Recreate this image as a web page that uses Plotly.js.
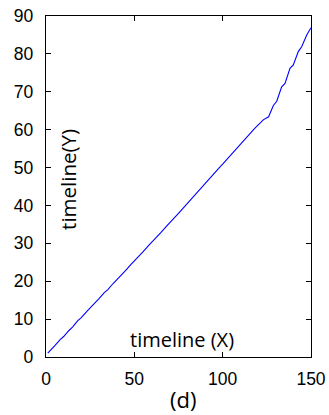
<!DOCTYPE html>
<html>
<head>
<meta charset="utf-8">
<script src="https://cdn.plot.ly/plotly-3.0.1.min.js"></script>
<style>html,body{margin:0;padding:0;background:#fff;}#chart{width:329px;height:415px;}</style>
</head>
<body>
<div id="chart"></div>
<script>
const xValues = [1, 3, 5, 8, 10, 13, 15, 18, 20, 23, 25, 28, 30, 33, 35, 38, 40, 43, 45, 48, 50, 53, 55, 58, 60, 63, 65, 68, 70, 73, 75, 78, 80, 83, 85, 88, 90, 93, 95, 98, 100, 103, 105, 108, 110, 113, 115, 118, 120, 123, 126, 128.7, 130.6, 133.4, 135.3, 138.1, 140, 142.8, 144.7, 147.6, 150];
const yValues = [1.0, 1.9, 3.0, 4.6, 5.4, 7.0, 7.9, 9.6, 10.4, 12.0, 12.9, 14.5, 15.4, 17.0, 17.8, 19.4, 20.3, 21.9, 22.8, 24.4, 25.3, 26.9, 27.8, 29.4, 30.3, 31.9, 32.8, 34.4, 35.3, 36.9, 37.9, 39.5, 40.5, 42.1, 43.1, 44.7, 45.7, 47.3, 48.3, 49.9, 50.9, 52.5, 53.5, 55.1, 56.1, 57.7, 58.7, 60.3, 61.2, 62.6, 63.4, 66.4, 67.5, 71.3, 72.2, 76.2, 77.1, 80.6, 81.9, 85.0, 86.9];
const xTicks = [0, 50, 100, 150];
const yTicks = [0, 10, 20, 30, 40, 50, 60, 70, 80, 90];
const xLabel = 'timeline (X)';
const yLabel = 'timeline(Y)';
const panelLabel = '(d)';

const axisCommon = {
  showgrid: false, zeroline: false, showline: true, linecolor: '#000', linewidth: 1.3,
  mirror: 'ticks', ticks: 'inside', ticklen: 5, tickwidth: 1, tickcolor: '#000',
  tickfont: {family: 'Arial, Liberation Sans, sans-serif', size: 17.5, color: '#000'}
};

const data = [{
  x: xValues, y: yValues, type: 'scatter', mode: 'lines',
  line: {color: '#0000ff', width: 1.1}, hoverinfo: 'none'
}];

const layout = {
  width: 329, height: 415,
  margin: {l: 46, r: 18, t: 16, b: 58},
  paper_bgcolor: '#fff', plot_bgcolor: '#fff',
  showlegend: false,
  xaxis: Object.assign({}, axisCommon, {range: [0, 150], tickvals: xTicks, ticktext: xTicks.map(String), ticklabelstandoff: 6}),
  yaxis: Object.assign({}, axisCommon, {range: [0, 90], tickvals: yTicks, ticktext: yTicks.map(String), ticklabelstandoff: 8}),
  annotations: [
    {text: xLabel, xref: 'paper', yref: 'paper', x: 0.514, y: 0.05, xanchor: 'center', yanchor: 'middle', showarrow: false,
     font: {family: 'Open Sans, sans-serif', size: 20, color: '#000'}},
    {text: yLabel, xref: 'paper', yref: 'paper', x: 0.08, y: 0.52, xanchor: 'center', yanchor: 'middle', showarrow: false, textangle: -90,
     font: {family: 'Open Sans, sans-serif', size: 20.5, color: '#000'}},
    {text: panelLabel, xref: 'paper', yref: 'paper', x: 0.517, y: -0.122, xanchor: 'center', yanchor: 'middle', showarrow: false,
     borderpad: 0, font: {family: 'Open Sans, sans-serif', size: 22, color: '#000'}}
  ]
};

Plotly.newPlot('chart', data, layout, {displayModeBar: false, staticPlot: true});
</script>
</body>
</html>
